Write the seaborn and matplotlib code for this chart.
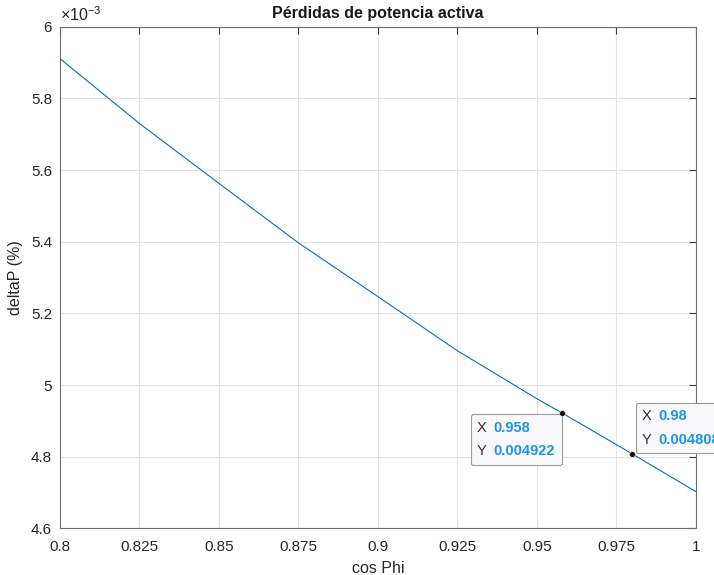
import matplotlib
matplotlib.use("Agg")
import matplotlib.pyplot as plt
import seaborn as sns
import pandas as pd
from matplotlib.ticker import FuncFormatter, MultipleLocator
from matplotlib.offsetbox import TextArea, HPacker, VPacker, AnnotationBbox

# Active power losses as a function of the power factor
cos_phi = [0.800, 0.825, 0.850, 0.875, 0.900, 0.925, 0.950, 0.958, 0.975, 0.980, 1.000]
delta_p = [0.005911, 0.005730, 0.005563, 0.005397, 0.005247, 0.005096,
           0.004962, 0.004922, 0.004834, 0.004808, 0.004703]

# Highlighted points (data tips)
tip_x = [0.958, 0.98]
tip_y = [0.004922, 0.004808]
tip_x_text = ["0.958", "0.98"]
tip_y_text = ["0.004922", "0.004808"]

x_ticks = [0.8, 0.825, 0.85, 0.875, 0.9, 0.925, 0.95, 0.975, 1.0]

sns.set_style("white")
plt.rcParams["font.family"] = ["Liberation Sans", "DejaVu Sans"]
plt.rcParams["mathtext.fontset"] = "custom"
plt.rcParams["mathtext.rm"] = "Liberation Sans"

df = pd.DataFrame({"cos Phi": cos_phi, "deltaP": delta_p})

fig = plt.figure(figsize=(7.14, 5.75), dpi=100)
ax = fig.add_axes([0.0838, 0.0809, 0.8907, 0.8728])

sns.lineplot(data=df, x="cos Phi", y="deltaP", ax=ax, color="#0072BD",
             linewidth=0.8, zorder=3)

ax.set_xlim(0.8, 1.0)
ax.set_ylim(0.0046, 0.0060)
ax.set_xticks(x_ticks)
ax.xaxis.set_major_formatter(FuncFormatter(lambda v, p: f"{round(v, 4):g}"))
ax.yaxis.set_major_locator(MultipleLocator(0.0002))
ax.yaxis.set_major_formatter(FuncFormatter(lambda v, p: f"{round(v * 1e3, 4):g}"))

ax.grid(True, color="#e3e3e3", linewidth=0.8, zorder=0)
for s in ax.spines.values():
    s.set_color("#6e6e6e")
    s.set_linewidth(0.8)
ax.tick_params(direction="in", length=5, width=0.8, color="#3a3a3a",
               top=True, right=True, labelsize=11, labelcolor="#262626")
ax.tick_params(axis="x", pad=8)
ax.tick_params(axis="y", pad=5.5)

ax.text(0.0, 1.005, r"$\times10^{-3}$", transform=ax.transAxes, fontsize=11.5,
        color="#262626", ha="left", va="bottom")

ax.set_title("Pérdidas de potencia activa", fontsize=11.5, fontweight="bold",
             color="#1a1a1a", pad=6)
ax.set_xlabel("cos Phi", fontsize=11.5, color="#262626", labelpad=5)
ax.set_ylabel("deltaP (%)", fontsize=11.5, color="#262626")
ax.yaxis.set_label_coords(-0.058, 0.5)

# Data tip markers
sns.scatterplot(x=tip_x, y=tip_y, ax=ax, color="#111111", s=18,
                edgecolor="#e8e2b0", linewidth=0.5, zorder=6)

# Data tip boxes: first below-left of its point, second above-right
alignments = [(1.0, 1.0), (0.0, 0.0)]
offsets = [(-5.0, -5.5), (7.0, 5.0)]
for xv, yv, xt, yt, al, off in zip(tip_x, tip_y, tip_x_text, tip_y_text,
                                   alignments, offsets):
    rows = []
    for lab, val in (("X", xt), ("Y", yt)):
        rows.append(HPacker(children=[
            TextArea(lab, textprops=dict(color="#333333", fontsize=10.5)),
            TextArea(val, textprops=dict(color="#1a96e8", fontsize=10.5,
                                         fontweight="bold")),
        ], align="baseline", pad=0, sep=5))
    box = VPacker(children=rows, align="left", pad=0, sep=7)
    ab = AnnotationBbox(box, (xv, yv), xycoords="data", xybox=off,
                        boxcoords="offset points", box_alignment=al,
                        frameon=True, pad=0.45, annotation_clip=False,
                        bboxprops=dict(boxstyle="round,pad=0.45,rounding_size=0.15",
                                       facecolor="#f9f9fb", edgecolor="#9a9a9a",
                                       linewidth=0.8), zorder=4)
    ax.add_artist(ab)

fig.savefig("out.png", dpi=100)
